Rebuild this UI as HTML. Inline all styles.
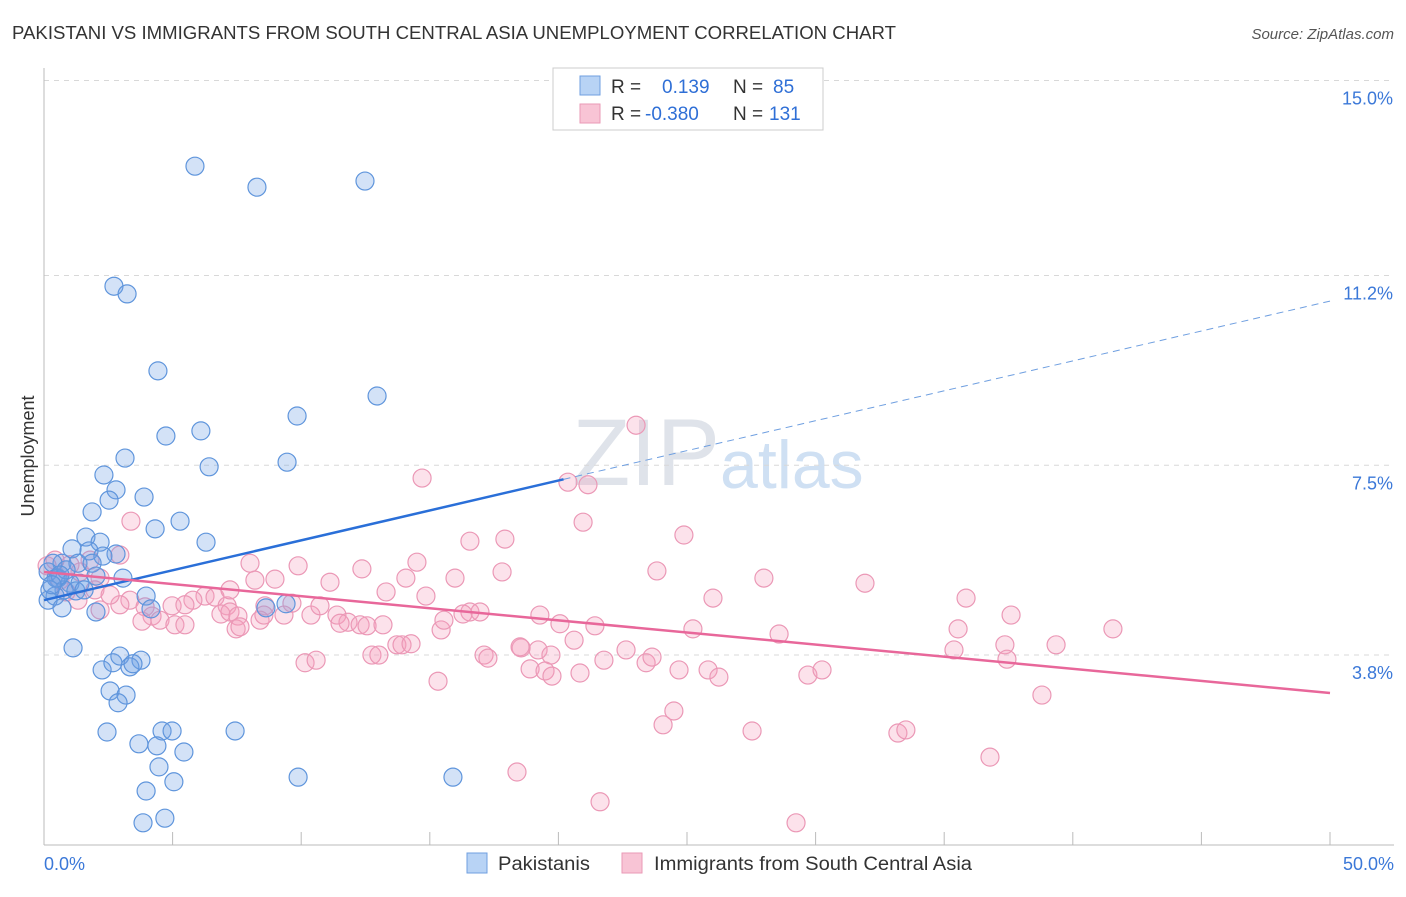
<!DOCTYPE html>
<html><head><meta charset="utf-8"><style>
body{margin:0;background:#fff;font-family:"Liberation Sans",sans-serif}
svg text{font-family:"Liberation Sans",sans-serif}
</style></head><body>
<svg id="c" width="1406" height="892">
<text x="12" y="39" font-size="18" fill="#333" textLength="884" lengthAdjust="spacingAndGlyphs">PAKISTANI VS IMMIGRANTS FROM SOUTH CENTRAL ASIA UNEMPLOYMENT CORRELATION CHART</text>
<text x="1394" y="39" font-size="15" fill="#555" font-style="italic" text-anchor="end">Source: ZipAtlas.com</text>
<text x="720" y="485" font-size="95" fill="#dfe3ea" font-family="Liberation Serif" text-anchor="end">ZIP</text>
<text x="720" y="488" font-size="68" fill="#cfe0f3">atlas</text>
<text x="34" y="456" font-size="18" fill="#333" transform="rotate(-90 34 456)" text-anchor="middle">Unemployment</text>
<g id="grid"></g><g id="pts"></g><g id="lines"></g>
<g>
<rect x="553" y="68" width="270" height="62" fill="#fff" stroke="#ccc"/>
<rect x="580" y="76" width="20" height="19" fill="#b8d3f5" stroke="#6f9fe0"/>
<rect x="580" y="104" width="20" height="19" fill="#f8c4d5" stroke="#ea9ab6"/>
<text x="611" y="93" font-size="19" fill="#333">R =</text><text x="662" y="93" font-size="19" fill="#2f6fd6">0.139</text>
<text x="733" y="93" font-size="19" fill="#333">N =</text><text x="773" y="93" font-size="19" fill="#2f6fd6">85</text>
<text x="611" y="120" font-size="19" fill="#333">R =</text><text x="645" y="120" font-size="19" fill="#2f6fd6">-0.380</text>
<text x="733" y="120" font-size="19" fill="#333">N =</text><text x="769" y="120" font-size="19" fill="#2f6fd6">131</text>
</g>
<g>
<rect x="467" y="853" width="20" height="20" fill="#b8d3f5" stroke="#6f9fe0"/>
<text x="498" y="870" font-size="19" fill="#333" textLength="92" lengthAdjust="spacingAndGlyphs">Pakistanis</text>
<rect x="622" y="853" width="20" height="20" fill="#f8c4d5" stroke="#ea9ab6"/>
<text x="654" y="870" font-size="19" fill="#333" textLength="318" lengthAdjust="spacingAndGlyphs">Immigrants from South Central Asia</text>
</g>
</svg>
<script>
const xTicks=[0,5,10,15,20,25,30,35,40,45,50];
const yTicks=[3.8,7.5,11.2,15.0];
const yTickLabels=["3.8%","7.5%","11.2%","15.0%"];
const blueX=[5.87,8.28,12.48,2.72,3.23,4.43,12.95,9.84,4.74,6.10,3.15,6.42,9.45,2.33,2.80,2.53,3.89,1.87,5.29,4.32,6.30,1.63,2.18,1.09,1.75,2.80,2.29,0.70,1.32,1.87,3.07,2.02,0.35,0.16,0.54,1.01,1.40,0.78,1.24,0.43,0.16,0.70,3.97,2.02,4.16,8.63,9.41,1.13,2.26,2.68,2.95,3.77,3.34,3.46,2.57,3.19,2.88,2.45,4.59,4.98,7.43,3.69,4.39,5.44,4.47,5.05,9.88,15.9,3.97,3.85,4.70,0.23,0.47,0.86,1.56,0.62,0.31];
const blueY=[13.33,12.92,13.04,10.99,10.84,9.34,8.85,8.46,8.07,8.17,7.64,7.47,7.56,7.31,7.02,6.82,6.88,6.59,6.41,6.26,6.00,6.10,6.00,5.87,5.83,5.77,5.73,5.59,5.59,5.59,5.30,5.34,5.59,5.42,5.30,5.20,5.20,5.07,5.05,4.95,4.87,4.72,4.95,4.64,4.70,4.72,4.80,3.94,3.51,3.65,3.78,3.70,3.57,3.63,3.10,3.02,2.87,2.30,2.32,2.32,2.32,2.07,2.03,1.91,1.62,1.33,1.42,1.42,1.15,0.53,0.62,5.07,5.30,5.46,5.07,5.36,5.17];
const pinkX=[23.02,14.70,20.37,21.15,3.38,20.96,24.88,16.56,17.92,14.50,8.01,9.88,12.36,23.83,17.81,15.98,14.07,8.98,11.12,8.20,27.99,31.92,13.30,14.85,35.85,26.01,19.28,16.56,16.95,16.29,11.39,10.38,10.73,9.64,6.26,6.65,5.79,7.12,8.59,4.98,3.34,2.95,3.93,4.20,4.51,3.81,5.09,5.48,6.88,7.23,7.54,8.40,8.55,9.33,7.47,7.62,11.82,11.51,12.29,12.56,13.18,15.44,15.55,20.06,21.42,35.54,41.56,25.23,28.58,37.60,20.61,18.55,19.21,19.71,13.72,13.92,14.27,12.75,13.02,17.11,17.26,10.15,10.58,21.77,22.63,23.41,23.64,18.51,18.90,19.48,19.75,20.84,24.69,25.82,26.24,29.70,30.25,35.38,37.36,37.44,39.35,15.32,38.80,24.49,24.07,27.53,33.20,33.51,18.39,36.78,21.62,29.24,1.40,1.79,2.18,0.62,1.01,0.43,0.12,1.98,2.57,0.86,1.32,2.95,2.18,7.23,5.48];
const pinkY=[8.28,7.25,7.17,7.12,6.41,6.39,6.14,6.02,6.06,5.61,5.59,5.54,5.48,5.44,5.42,5.30,5.30,5.28,5.22,5.26,5.30,5.20,5.03,4.95,4.91,4.91,4.58,4.64,4.64,4.60,4.58,4.58,4.76,4.81,4.95,4.93,4.87,4.76,4.76,4.76,4.87,4.78,4.74,4.56,4.48,4.46,4.39,4.39,4.60,4.64,4.56,4.48,4.58,4.58,4.31,4.35,4.44,4.42,4.39,4.37,4.39,4.29,4.48,4.41,4.37,4.31,4.31,4.31,4.21,4.58,4.09,3.94,3.90,3.80,4.00,4.00,4.02,3.80,3.80,3.80,3.74,3.65,3.70,3.70,3.90,3.65,3.76,3.96,3.53,3.49,3.39,3.45,3.51,3.51,3.37,3.41,3.51,3.90,4.00,3.72,4.00,3.29,3.02,2.71,2.44,2.32,2.28,2.34,1.52,1.81,0.94,0.53,5.42,5.65,5.30,5.26,5.56,5.65,5.54,5.07,4.97,5.03,4.87,5.75,4.68,5.07,4.78];
const blueTrend=[4.87,10.7];
const pinkTrend=[5.42,3.06];
const X=v=>44+v*25.72, Y=v=>850-v*51.3;
const NS="http://www.w3.org/2000/svg";
function mk(tag,attrs,parent){const e=document.createElementNS(NS,tag);for(const k in attrs)e.setAttribute(k,attrs[k]);parent.appendChild(e);return e;}
const grid=document.getElementById('grid');
yTicks.forEach((t,i)=>{
 const l=mk('line',{x1:44,x2:1394,y1:Y(t),y2:Y(t),stroke:'#d8d8d8','stroke-dasharray':'5,5'},grid);
 
 
 const tx=mk('text',{x:1393,y:Y(t)+24,'font-size':18,fill:'#3b78d8','text-anchor':'end'},grid);
 tx.textContent=yTickLabels[i];
 
 
});
mk('line',{x1:44,x2:44,y1:68,y2:845,stroke:'#bbb'},grid);
mk('line',{x1:44,x2:1394,y1:845,y2:845,stroke:'#bbb'},grid);
xTicks.forEach(t=>{const l=mk('line',{x1:X(t),x2:X(t),y1:832,y2:845,stroke:'#bbb'},grid);
 
 });
let t0=mk('text',{x:44,y:870,'font-size':18,fill:'#3b78d8'},grid);t0.textContent='0.0%';


let t1=mk('text',{x:1394,y:870,'font-size':18,fill:'#3b78d8','text-anchor':'end'},grid);t1.textContent='50.0%';


const pts=document.getElementById('pts');
pinkX.forEach((x,i)=>{const c=mk('circle',{cx:X(x),cy:Y(pinkY[i]),r:9,fill:'rgba(244,160,190,0.3)',stroke:'#eb98b6','stroke-width':1.2},pts);
 
 });
blueX.forEach((x,i)=>{const c=mk('circle',{cx:X(x),cy:Y(blueY[i]),r:9,fill:'rgba(110,160,230,0.3)',stroke:'#5f95dc','stroke-width':1.2},pts);
 
 });
const lines=document.getElementById('lines');
const bAt=x=>blueTrend[0]+(blueTrend[1]-blueTrend[0])*x/50;
let b1=mk('line',{x1:X(0),y1:Y(bAt(0)),x2:X(20.2),y2:Y(bAt(20.2)),stroke:'#2a6fd8','stroke-width':2.5},lines);


let b2=mk('line',{x1:X(20.2),y1:Y(bAt(20.2)),x2:X(50),y2:Y(bAt(50)),stroke:'#6f9fe0','stroke-width':1,'stroke-dasharray':'7,5'},lines);


let p1=mk('line',{x1:X(0),y1:Y(pinkTrend[0]),x2:X(50),y2:Y(pinkTrend[1]),stroke:'#e8679a','stroke-width':2.5},lines);


</script>
</body></html>
